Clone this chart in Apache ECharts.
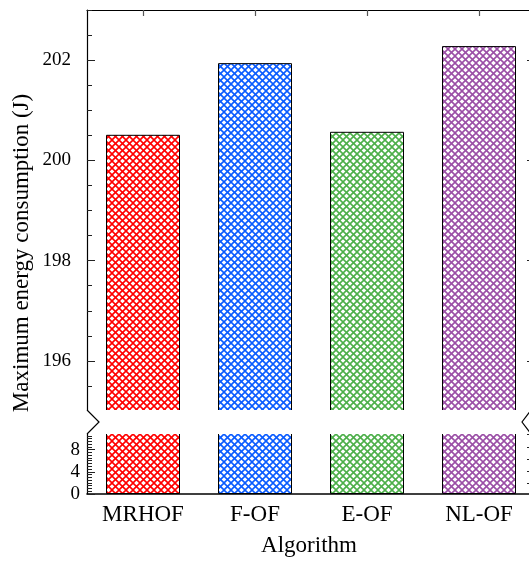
<!DOCTYPE html>
<html>
<head>
<meta charset="utf-8">
<script src="https://cdn.jsdelivr.net/npm/echarts@6/dist/echarts.min.js"></script>
<style>html,body{margin:0;padding:0;background:#fff;}#c{width:529px;height:563px;}</style>
</head>
<body>
<div id="c"></div>
<script>
const categories = ['MRHOF', 'F-OF', 'E-OF', 'NL-OF'];
const values = [200.51, 201.94, 200.57, 202.28];
const barColors = ['#ff0000', '#0a5cff', '#4daf4a', '#9b4fa6'];
const upperRange = [195, 203];
const lowerRange = [0, 11];
const upperTickLabels = [196, 198, 200, 202];
const lowerTickLabels = [0, 4, 8];
const rightLowerTicks = [1.9, 4.1, 6.3, 8.5, 10.7];
const yTitle = 'Maximum energy consumption (J)';
const xTitle = 'Algorithm';

const FONT = '"Liberation Serif", "Times New Roman", serif';

function hatch(color) {
  const T = 7;
  const c = document.createElement('canvas');
  c.width = T; c.height = T;
  const g = c.getContext('2d');
  g.fillStyle = '#fff';
  g.fillRect(0, 0, T, T);
  g.strokeStyle = color;
  g.lineWidth = 1.6;
  for (let k = -1; k <= 1; k++) {
    g.beginPath(); g.moveTo(k * T - 1, -1); g.lineTo(k * T + T + 1, T + 1); g.stroke();
    g.beginPath(); g.moveTo(k * T + T + 1, -1); g.lineTo(k * T - 1, T + 1); g.stroke();
  }
  return { image: c, repeat: 'repeat' };
}

const barData = values.map((v, i) => ({
  value: v,
  itemStyle: { color: hatch(barColors[i]), borderColor: '#000', borderWidth: 1 }
}));

const G_LEFT = 87, G_WIDTH = 448;
const UP_TOP = 10, UP_H = 401;
const LO_TOP = 433, LO_H = 61;

const chart = echarts.init(document.getElementById('c'), null, { renderer: 'canvas' });

const tickStyle = { color: '#222', width: 1 };

chart.setOption({
  animation: false,
  backgroundColor: '#fff',
  textStyle: { fontFamily: FONT },
  grid: [
    { left: G_LEFT, top: UP_TOP, width: G_WIDTH, height: UP_H, outerBoundsMode: 'none', containLabel: false },
    { left: G_LEFT, top: LO_TOP, width: G_WIDTH, height: LO_H, outerBoundsMode: 'none', containLabel: false }
  ],
  xAxis: [
    { type: 'category', gridIndex: 0, data: categories, position: 'top',
      boundaryGap: true,
      axisLine: { show: true, lineStyle: { color: '#000', width: 1.2 } },
      axisTick: { show: true, inside: true, alignWithLabel: true, length: 6, lineStyle: { color: '#555', width: 1.2 } },
      axisLabel: { show: false }, splitLine: { show: false } },
    { type: 'category', gridIndex: 1, data: categories, position: 'bottom',
      boundaryGap: true,
      axisLine: { show: true, lineStyle: { color: '#000', width: 1.6 } },
      axisTick: { show: true, inside: true, alignWithLabel: true, length: 5, lineStyle: { color: '#555', width: 1.2 } },
      axisLabel: { show: true, margin: 9, fontSize: 23, color: '#000', fontFamily: FONT },
      splitLine: { show: false } }
  ],
  yAxis: [
    { type: 'value', gridIndex: 0, min: upperRange[0], max: upperRange[1], position: 'left',
      axisLine: { show: true, onZero: false, lineStyle: { color: '#000', width: 1.2 } },
      axisTick: { show: true, inside: true, length: 8, customValues: upperTickLabels, lineStyle: tickStyle },
      axisLabel: { show: true, margin: 16, fontSize: 19, color: '#000', fontFamily: FONT, customValues: upperTickLabels },
      splitLine: { show: false } },
    { type: 'value', gridIndex: 0, min: upperRange[0], max: upperRange[1], interval: 0.5, position: 'left',
      axisLine: { show: false },
      axisTick: { show: true, inside: true, length: 5, lineStyle: tickStyle },
      axisLabel: { show: false }, splitLine: { show: false } },
    { type: 'value', gridIndex: 0, min: upperRange[0], max: upperRange[1], position: 'right', offset: -4,
      axisLine: { show: true, onZero: false, lineStyle: { color: '#000', width: 1.2 } },
      axisTick: { show: true, inside: true, length: 4, customValues: upperTickLabels, lineStyle: tickStyle },
      axisLabel: { show: false }, splitLine: { show: false } },
    { type: 'value', gridIndex: 1, min: lowerRange[0], max: lowerRange[1], interval: 4, position: 'left',
      axisLine: { show: true, onZero: false, lineStyle: { color: '#000', width: 1.2 } },
      axisTick: { show: true, inside: true, length: 8, customValues: lowerTickLabels, lineStyle: tickStyle },
      axisLabel: { show: true, margin: 7, fontSize: 19, color: '#000', fontFamily: FONT, customValues: lowerTickLabels },
      splitLine: { show: false } },
    { type: 'value', gridIndex: 1, min: lowerRange[0], max: lowerRange[1], interval: 0.5, position: 'left',
      axisLine: { show: false },
      axisTick: { show: true, inside: true, length: 5, lineStyle: tickStyle },
      axisLabel: { show: false }, splitLine: { show: false } },
    { type: 'value', gridIndex: 1, min: lowerRange[0], max: lowerRange[1], position: 'right', offset: -4,
      axisLine: { show: true, onZero: false, lineStyle: { color: '#000', width: 1.2 } },
      axisTick: { show: true, inside: true, length: 4, customValues: rightLowerTicks, lineStyle: tickStyle },
      axisLabel: { show: false }, splitLine: { show: false } }
  ],
  series: [
    { type: 'bar', xAxisIndex: 0, yAxisIndex: 0, data: barData, barWidth: 74, clip: true },
    { type: 'bar', xAxisIndex: 1, yAxisIndex: 3, data: barData, barWidth: 74, clip: true }
  ],
  graphic: [
    { type: 'rect', silent: true, z: 90,
      shape: { x: 0, y: UP_TOP + UP_H - 1, width: 529, height: LO_TOP - UP_TOP - UP_H + 2 },
      style: { fill: '#fff' } },
    { type: 'polyline', silent: true, z: 100,
      shape: { points: [[G_LEFT, UP_TOP + UP_H - 1], [G_LEFT + 12, (UP_TOP + UP_H + LO_TOP) / 2], [G_LEFT, LO_TOP + 1]] },
      style: { stroke: '#000', lineWidth: 1.2, fill: null } },
    { type: 'polyline', silent: true, z: 100,
      shape: { points: [[531, UP_TOP + UP_H - 1], [522, (UP_TOP + UP_H + LO_TOP) / 2], [531, LO_TOP + 1]] },
      style: { stroke: '#000', lineWidth: 1.2, fill: null } },
    { type: 'text', silent: true, z: 100, x: 22, y: 253, rotation: Math.PI / 2,
      style: { text: yTitle, font: '23px ' + FONT, fill: '#000', align: 'center', verticalAlign: 'middle' } },
    { type: 'text', silent: true, z: 100, x: 309, y: 546,
      style: { text: xTitle, font: '23px ' + FONT, fill: '#000', align: 'center', verticalAlign: 'middle' } }
  ]
});
</script>
</body>
</html>
